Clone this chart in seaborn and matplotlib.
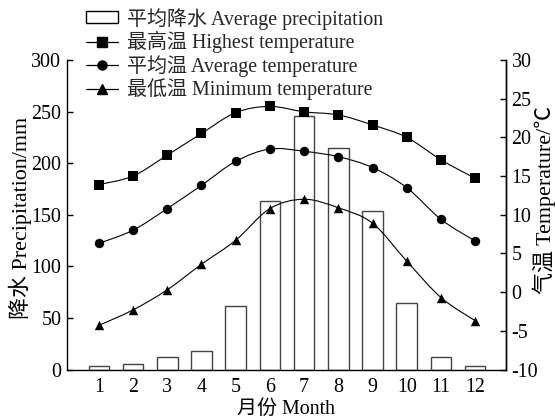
import matplotlib
matplotlib.use("Agg")
import matplotlib.pyplot as plt
from matplotlib.path import Path
from matplotlib.patches import PathPatch, Patch
from matplotlib.lines import Line2D
import numpy as np
import pandas as pd
import seaborn as sns

# Monthly climate data
months = [1, 2, 3, 4, 5, 6, 7, 8, 9, 10, 11, 12]
precip = [3, 5.5, 12.5, 17.5, 61.5, 163.5, 246, 215, 153.5, 64.5, 12.5, 3]
t_high = [13.9, 15.0, 17.7, 20.5, 23.2, 24.0, 23.3, 22.9, 21.6, 20.0, 17.1, 14.7]
t_mean = [6.3, 8.0, 10.8, 13.8, 16.9, 18.5, 18.2, 17.5, 16.1, 13.5, 9.4, 6.6]
t_low = [-4.3, -2.3, 0.3, 3.6, 6.7, 10.8, 12.0, 10.9, 8.9, 4.0, -0.7, -3.7]

precip_ticks = [0, 50, 100, 150, 200, 250, 300]
temp_ticks = [-10, -5, 0, 5, 10, 15, 20, 25, 30]

legend_labels = [
    "平均降水 Average precipitation",
    "最高温 Highest temperature",
    "平均温 Average temperature",
    "最低温 Minimum temperature",
]

sns.set_theme(style="ticks")
plt.rcParams["font.family"] = ["Liberation Serif", "Noto Sans CJK SC"]
plt.rcParams["axes.unicode_minus"] = False
FS = 14.4
FS_Y = 15.8

fig = plt.figure(figsize=(5.55, 4.18), dpi=100)
ax = fig.add_axes([0.1207, 0.116, 0.7910, 0.7405])

df = pd.DataFrame({"month": months, "precip": precip})
sns.barplot(data=df, x="month", y="precip", native_scale=True, width=0.6,
            color="white", saturation=1, edgecolor="#444444", linewidth=1.0,
            ax=ax, zorder=1)

ax.set_xlim(0.07, 12.9)
ax.set_ylim(0, 300)
ax.set_xticks(months)
ax.set_xticklabels([str(m) for m in months], fontsize=FS)
ax.set_yticks(precip_ticks)
ax.set_yticklabels([str(v) for v in precip_ticks], fontsize=FS)
ax.tick_params(axis="x", length=0, pad=6, colors="black")
ax.tick_params(axis="y", direction="in", length=4, width=1, pad=4, colors="black")
ax.set_xlabel("月份 Month", fontsize=FS, labelpad=2, color="black")
ax.set_ylabel("")
ax.spines["top"].set_visible(False)
for s in ["left", "bottom", "right"]:
    ax.spines[s].set_color("black")
    ax.spines[s].set_linewidth(1.0)

ax2 = ax.twinx()
ax2.set_ylim(-10, 30)
ax2.set_yticks(temp_ticks)
ax2.set_yticklabels([str(v) for v in temp_ticks], fontsize=FS)
ax2.tick_params(axis="y", direction="in", length=4, width=1, pad=4, colors="black")
ax2.spines["top"].set_visible(False)
ax2.spines["left"].set_visible(False)
ax2.spines["bottom"].set_visible(False)
ax2.spines["right"].set_color("black")
ax2.spines["right"].set_linewidth(1.0)

# Axis titles for both vertical scales
fig.text(20 / 555, 1 - 218 / 418, "降水 Precipitation/mm", rotation=90,
         ha="center", va="center", fontsize=FS_Y, color="black")
fig.text(544 / 555, 1 - 200 / 418, "气温 Temperature/℃", rotation=90,
         ha="center", va="center", fontsize=FS_Y, color="black")


def smooth_path(xs, ys):
    """Catmull-Rom curve through the points, expressed as cubic Beziers."""
    pts = np.column_stack([xs, ys]).astype(float)
    ext = np.vstack([pts[0], pts, pts[-1]])
    verts = [tuple(pts[0])]
    codes = [Path.MOVETO]
    for i in range(1, len(ext) - 2):
        p0, p1, p2, p3 = ext[i - 1], ext[i], ext[i + 1], ext[i + 2]
        c1 = p1 + (p2 - p0) / 6.0
        c2 = p2 - (p3 - p1) / 6.0
        verts += [tuple(c1), tuple(c2), tuple(p2)]
        codes += [Path.CURVE4] * 3
    return Path(verts, codes)


series = [(t_high, "s"), (t_mean, "o"), (t_low, "^")]
for vals, mk in series:
    ax2.add_patch(PathPatch(smooth_path(months, vals), facecolor="none",
                            edgecolor="black", linewidth=0.8, zorder=3))
    sns.scatterplot(x=months, y=vals, marker=mk, s=46, color="black",
                    edgecolor="black", linewidth=0, ax=ax2, zorder=4, legend=False)

ax2.set_xlim(0.07, 12.9)

handles = [Patch(facecolor="white", edgecolor="black", linewidth=1.0)]
for _, mk in series:
    handles.append(Line2D([], [], color="black", linewidth=0.9, marker=mk,
                          markersize=6.5))
fig.legend(handles, legend_labels, loc="upper left", bbox_to_anchor=(0.1306, 1.015),
           frameon=False, fontsize=FS, handlelength=1.6, handleheight=0.55,
           handletextpad=0.45, labelspacing=0.085, borderpad=0.2)

fig.savefig("out.png", dpi=100, facecolor="white")
